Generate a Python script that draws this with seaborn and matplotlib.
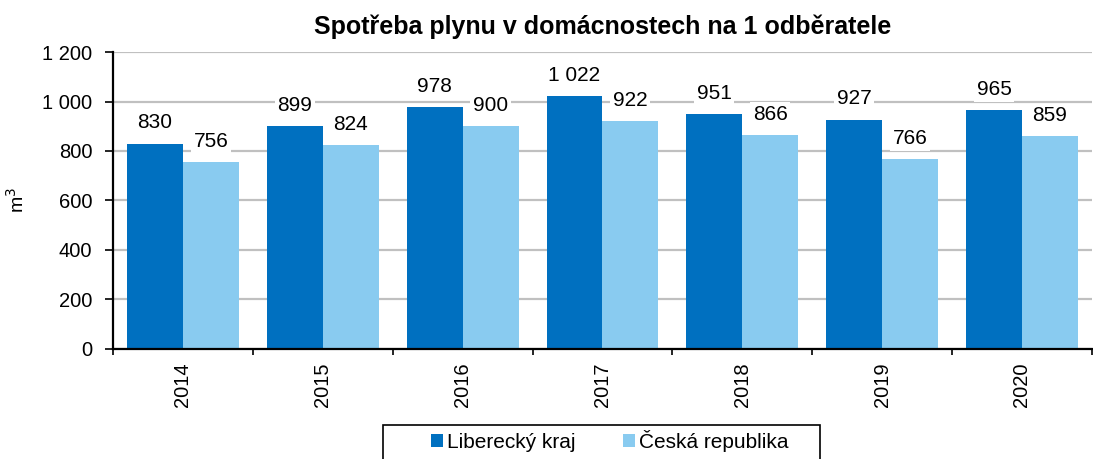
import seaborn as sns
import matplotlib.pyplot as plt
from matplotlib.patches import Rectangle
import pandas as pd
import numpy as np

years = ['2014', '2015', '2016', '2017', '2018', '2019', '2020']
liberecky = [830, 899, 978, 1022, 951, 927, 965]
cr = [756, 824, 900, 922, 866, 766, 859]
series = ['Liberecký kraj', 'Česká republika']
colors = ['#0070c0', '#89cbf0']

df = pd.DataFrame({
    'rok': years * 2,
    'hodnota': liberecky + cr,
    'rada': [series[0]] * len(years) + [series[1]] * len(years),
})


def fmt(v):
    return f'{int(v):,}'.replace(',', ' ')


sns.set_style('white')
plt.rcParams['font.family'] = ['Liberation Sans', 'DejaVu Sans']
plt.rcParams.update({'text.color': 'black', 'axes.labelcolor': 'black',
                     'xtick.color': 'black', 'ytick.color': 'black'})

fig = plt.figure(figsize=(10.93, 4.59), dpi=100)
ax = fig.add_axes([0.1034, 0.2397, 0.8956, 0.647])

sns.barplot(data=df, x='rok', y='hodnota', hue='rada', palette=colors,
            width=0.8, saturation=1, linewidth=0, ax=ax, zorder=2, legend=True)

for cont in ax.containers:
    ax.bar_label(cont, labels=[fmt(b.get_height()) for b in cont], padding=8,
                 fontsize=15, color='black',
                 bbox=dict(facecolor='white', edgecolor='none', pad=2))

ax.set_ylim(0, 1200)
ax.set_xlim(-0.5, 6.5)
ax.set_yticks(range(0, 1201, 200))
ax.set_yticklabels([fmt(v) for v in range(0, 1201, 200)], fontsize=14.5)
ax.yaxis.grid(True, color='#c0c0c0', linewidth=1.6, zorder=0)
ax.set_axisbelow(True)

ax.set_xticks(range(len(years)))
ax.set_xticklabels(years, rotation=90, fontsize=14.5)
ax.set_xticks(np.arange(-0.5, 7, 1), minor=True)
ax.tick_params(axis='x', which='major', length=0, pad=10)
ax.tick_params(axis='x', which='minor', length=4, width=1.2, direction='out', color='black', bottom=True)
ax.tick_params(axis='y', length=6, width=1.2, pad=9, direction='out', color='black', left=True)

for s in ['top', 'right']:
    ax.spines[s].set_visible(False)
for s in ['left', 'bottom']:
    ax.spines[s].set_color('black')
    ax.spines[s].set_linewidth(1.6)

ax.set_xlabel('')
ax.set_ylabel('m$^3$', fontsize=14, labelpad=10)
ax.set_title('Spotřeba plynu v domácnostech na 1 odběratele', fontsize=18,
             fontweight='bold', pad=13)

# legend below the plot, framed box running off the bottom edge
handles, labels = ax.get_legend_handles_labels()
ax.get_legend().remove()
fig.legend(handles, labels, loc='center', bbox_to_anchor=(0.558, 1 - 441 / 459), ncol=2,
           frameon=False, fontsize=15, handlelength=0.55, handleheight=0.55,
           handletextpad=0.2, columnspacing=2.3, borderaxespad=0)
fig.patches.append(Rectangle((383 / 1093, -0.02), 437 / 1093, 0.02 + 34 / 459,
                             transform=fig.transFigure, fill=False,
                             edgecolor='black', linewidth=1.2))

fig.savefig('out.png', dpi=100)
